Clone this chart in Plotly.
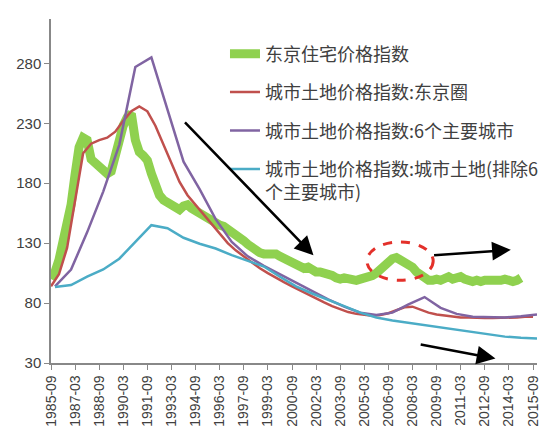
import pandas as pd
import plotly.graph_objects as go

# 东京住宅价格指数 (quarterly, 1985-09 onward)
home_price = [100, 106, 116, 130, 145, 162, 187, 210, 218, 216, 200, 197,
              194, 191, 188, 190, 203, 218, 228, 235, 238, 216, 206, 203,
              199, 188, 177, 170, 166, 164, 162, 160, 158, 161, 162, 159,
              157, 154, 151, 150, 148, 146, 145, 144, 142, 140, 137, 134,
              132, 129, 126, 124, 122, 121, 121, 122, 121, 119, 117, 115,
              114, 113, 111, 109, 110, 107, 106, 106, 105, 105, 103, 101,
              100, 101, 100, 99, 99, 100, 101, 101, 103, 105, 108, 112,
              116, 117, 118, 116, 115, 114, 110, 106, 103, 100, 99, 99,
              100, 99, 101, 102, 100, 101, 102, 100, 99, 98, 99, 98,
              99, 99, 98, 99, 99, 100, 99, 98, 99, 101]

# 城市土地价格指数:东京圈 (semi-annual, 1985-09 .. 2015-09)
land_tokyo = [94, 104, 126, 165, 205, 213, 216, 218, 223, 232, 240, 244,
              240, 228, 212, 196, 181, 170, 162, 154, 146, 138, 130, 124,
              119, 114, 109, 105, 101, 97.5, 94, 90.5, 87, 83.5, 80.5, 77.5,
              75, 72.5, 71, 70, 69.5, 70, 71.5, 74, 76.5, 77, 74.5, 72,
              70.5, 69.5, 68.5, 68, 68, 67.5, 67.5, 67.5, 67.5, 68, 68, 68.5,
              68.5]

# year-end readings 1985 .. 2015
years = list(range(1985, 2016))
land_six = [94, 108, 139, 173, 212, 277, 285, 241, 198, 175, 150, 131,
            119, 111, 104, 97, 90, 83, 77, 72, 70, 72, 79, 85,
            76, 71, 68.5, 68, 68, 69, 70.5]
land_other = [93.5, 95, 102, 108, 117, 131, 145, 142.5, 134.5, 129.5, 125.5, 120,
              115, 110.5, 102, 94, 88, 83, 77.5, 72, 68, 65.5, 63.5, 62,
              60, 57.5, 55.5, 53.5, 52, 51, 50.5]

home_dates = pd.date_range("1985-09-01", periods=len(home_price), freq="3MS")
semi_dates = pd.date_range("1985-09-01", periods=len(land_tokyo), freq="6MS")
year_dates = [f"{y}-12-01" for y in years]

names = ["东京住宅价格指数", "城市土地价格指数:东京圈", "城市土地价格指数:6个主要城市",
         "城市土地价格指数:城市土地(排除6<br>个主要城市)"]

fig = go.Figure()
fig.add_trace(go.Scatter(x=home_dates, y=home_price, name=names[0], mode="lines",
                         line=dict(color="#8fd14f", width=9), legendgroup="a"))
fig.add_trace(go.Scatter(x=semi_dates, y=land_tokyo, name=names[1], mode="lines",
                         line=dict(color="#c0504d", width=2.5), legendgroup="b"))
fig.add_trace(go.Scatter(x=year_dates, y=land_six, name=names[2], mode="lines",
                         line=dict(color="#8064a2", width=2.5), legendgroup="c"))
fig.add_trace(go.Scatter(x=year_dates, y=land_other, name=names[3], mode="lines",
                         line=dict(color="#4bacc6", width=2.5), legendgroup="d"))

# page body keeps its 8px default margin, so the figure is 8px smaller each way
fig.update_layout(
    width=547, height=427,
    margin=dict(l=43, r=18, t=11, b=72),
    paper_bgcolor="white", plot_bgcolor="white",
    font=dict(family="Liberation Sans, Noto Sans CJK SC", color="#404040", size=14),
    showlegend=True,
    legend=dict(x=0.358, y=0.952, xanchor="left", yanchor="top",
                bgcolor="rgba(0,0,0,0)", traceorder="grouped", tracegroupgap=12,
                valign="top",
                font=dict(family="Noto Sans CJK SC", size=18, color="#404040")),
)
fig.update_xaxes(type="date", range=["1985-09-01", "2015-12-01"], automargin=False,
                 tick0="1985-09-01", dtick="M18", tickformat="%Y-%m",
                 tickangle=-90, ticks="outside", ticklen=5, tickcolor="#888",
                 showline=True, linecolor="#888", linewidth=1.5, showgrid=False,
                 zeroline=False, tickfont=dict(size=14))
fig.update_yaxes(range=[30, 317], tick0=30, dtick=50, automargin=False,
                 ticks="outside", ticklen=5,
                 tickcolor="#888", showline=True, linecolor="#888", linewidth=1.5,
                 showgrid=False, zeroline=False, tickfont=dict(size=15))

# red dashed ring around the 2007 bump
fig.add_shape(type="circle", xref="x", yref="y",
              x0="2005-05-01", x1="2009-06-15", y0=99, y1=131,
              line=dict(color="#e3302a", width=3, dash="dash"))

# black arrows
arrows = [("2002-01-01", 119.8, "1993-12-01", 232),
          ("2014-04-15", 124.4, "2009-06-01", 119.8),
          ("2013-05-01", 33.7, "2008-08-01", 45.6)]
for hx, hy, tx, ty in arrows:
    fig.add_annotation(x=hx, y=hy, ax=tx, ay=ty, xref="x", yref="y",
                       axref="x", ayref="y", text="", showarrow=True,
                       arrowhead=2, arrowsize=1.5, arrowwidth=2.5,
                       arrowcolor="black", standoff=0, startstandoff=0)

fig.write_html("out.html")
